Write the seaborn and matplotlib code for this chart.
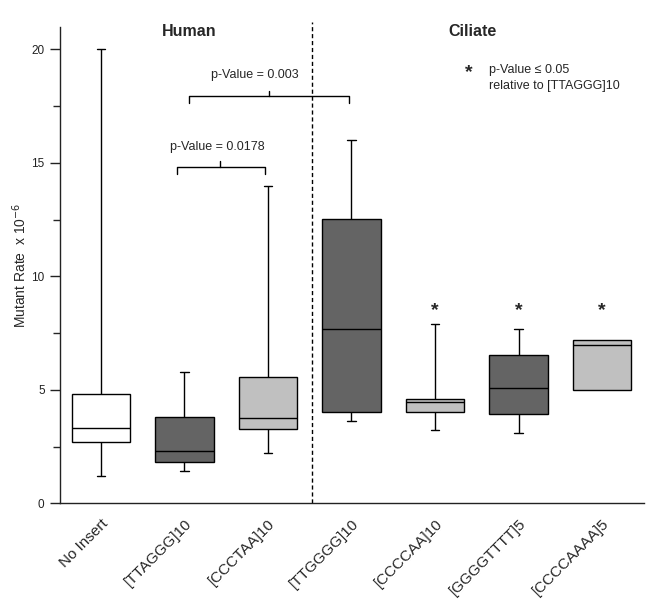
import pandas as pd
import matplotlib.pyplot as plt
import seaborn as sns
from matplotlib.ticker import MultipleLocator

# summary values (mutant rate x 1e-6)
inserts = ['No Insert', '[TTAGGG]10', '[CCCTAA]10', '[TTGGGG]10',
           '[CCCCAA]10', '[GGGGTTTT]5', '[CCCCAAAA]5']
whisker_low = [1.20, 1.44, 2.22, 3.63, 3.23, 3.12, 5.01]
q1 = [2.70, 1.82, 3.29, 4.03, 4.03, 3.94, 5.01]
median = [3.32, 2.31, 3.76, 7.70, 4.48, 5.10, 7.00]
q3 = [4.84, 3.81, 5.57, 12.51, 4.62, 6.54, 7.20]
whisker_high = [20.0, 5.79, 14.0, 16.0, 7.92, 7.70, 7.20]
box_colors = ['#ffffff', '#646464', '#c0c0c0', '#646464',
              '#c0c0c0', '#646464', '#c0c0c0']
starred = ['[CCCCAA]10', '[GGGGTTTT]5', '[CCCCAAAA]5']

# five points per group give back exactly these quartiles with whis=(0, 100)
rows = []
for i, name in enumerate(inserts):
    for v in [whisker_low[i], q1[i], median[i], q3[i], whisker_high[i]]:
        rows.append({'insert': name, 'rate': v})
df = pd.DataFrame(rows)

sns.set_style('white')
plt.rcParams['font.family'] = ['Liberation Sans', 'DejaVu Sans']

fig = plt.figure(figsize=(6.51, 6.08), dpi=100)
ax = fig.add_axes([0.092, 0.172, 0.897, 0.784])

sns.boxplot(data=df, x='insert', y='rate', hue='insert', order=inserts,
            hue_order=inserts, palette=box_colors, legend=False, whis=(0, 100),
            width=0.7, linecolor='black', linewidth=1.0, saturation=1,
            showfliers=False, ax=ax)

# shorten whisker caps, drop caps of zero-length whiskers
for ln in ax.lines:
    xd, yd = ln.get_xdata(), ln.get_ydata()
    if len(xd) == 2 and yd[0] == yd[1] and abs(xd[1] - xd[0]) < 0.65:
        c = (xd[0] + xd[1]) / 2
        ln.set_xdata([c - 0.05, c + 0.05])
        k = int(round(c))
        if yd[0] in (q1[k], q3[k]):
            ln.set_visible(False)

ax.set_xlim(-0.49, 6.5)
ax.set_ylim(0, 21)
ax.set_yticks([0, 5, 10, 15, 20])
ax.yaxis.set_minor_locator(MultipleLocator(2.5))
ax.tick_params(axis='y', which='major', left=True, length=7, width=1,
               labelsize=8.5, colors='#222222', pad=4)
ax.tick_params(axis='y', which='minor', left=True, length=5, width=1)
ax.tick_params(axis='x', bottom=False, labelsize=11, pad=6)
plt.setp(ax.get_xticklabels(), rotation=45, ha='right', rotation_mode='anchor')
for s in ['top', 'right']:
    ax.spines[s].set_visible(False)
for s in ['left', 'bottom']:
    ax.spines[s].set_color('#222222')
    ax.spines[s].set_linewidth(1.0)

ax.set_xlabel('')
ax.set_ylabel('Mutant Rate  x 10$^{-6}$', fontsize=10, labelpad=2)

# divider between human and ciliate groups
ax.plot([2.53, 2.53], [0, 21.2], ls='--', color='black', lw=1,
        dashes=(3, 2), clip_on=False)
ax.text(1.06, 20.8, 'Human', ha='center', va='center', fontsize=11.5,
        fontweight='bold')
ax.text(4.45, 20.8, 'Ciliate', ha='center', va='center', fontsize=11.5,
        fontweight='bold')


def bracket(x0, x1, xm, y, drop, rise):
    ax.plot([x0, x0, x1, x1], [y - drop, y, y, y - drop], color='black', lw=1)
    ax.plot([xm, xm], [y, y + rise], color='black', lw=1)


bracket(0.91, 1.96, 1.43, 14.84, 0.33, 0.25)
ax.text(1.40, 15.72, 'p-Value = 0.0178', ha='center', va='center', fontsize=9)
bracket(1.06, 2.97, 2.01, 17.96, 0.30, 0.22)
ax.text(1.84, 18.87, 'p-Value = 0.003', ha='center', va='center', fontsize=9)

for name in starred:
    ax.text(inserts.index(name), 8.5, '*', ha='center', va='center',
            fontsize=14, fontweight='bold')

ax.text(4.40, 19.0, '*', ha='center', va='center', fontsize=14,
        fontweight='bold')
ax.text(4.65, 19.1, 'p-Value \u2264 0.05', ha='left', va='center', fontsize=9)
ax.text(4.65, 18.4, 'relative to [TTAGGG]10', ha='left', va='center',
        fontsize=9)

plt.savefig('out.png', dpi=100)
